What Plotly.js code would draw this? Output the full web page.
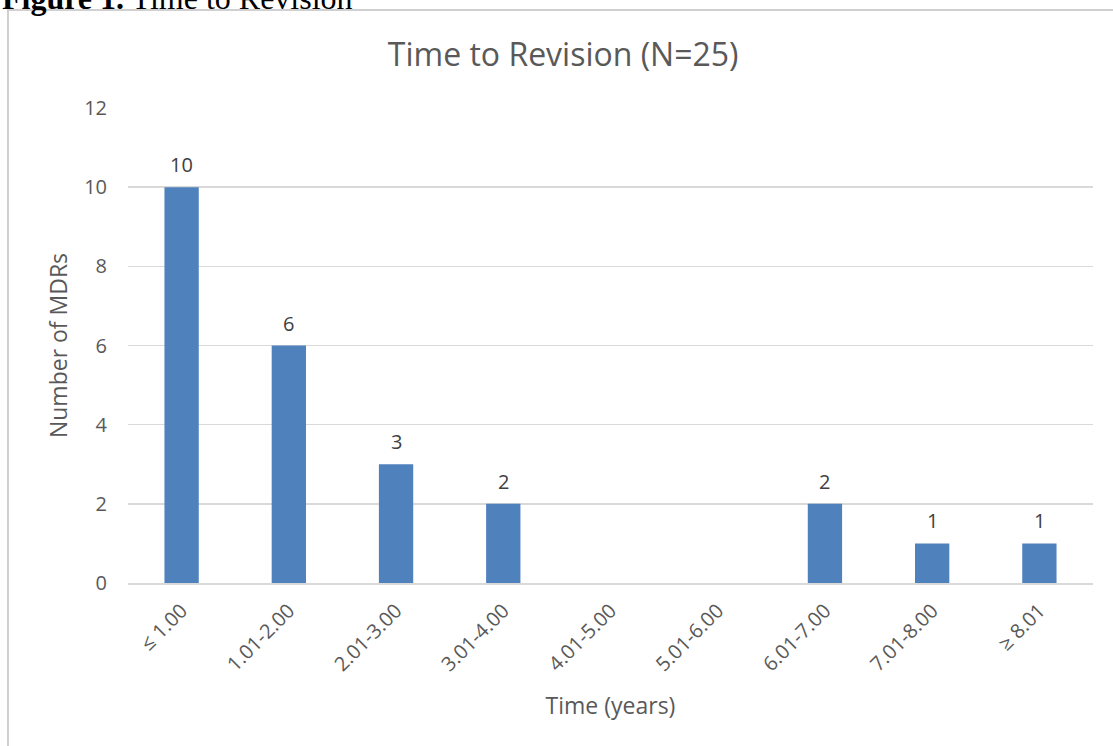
<!DOCTYPE html>
<html><head><meta charset="utf-8">
<script src="https://cdn.plot.ly/plotly-3.0.1.min.js"></script>
<style>html,body{margin:0;padding:0;background:#fff;}#chart{width:1113px;height:746px;}</style>
</head><body><div id="chart"></div>
<script>
const categories = ["≤ 1.00","1.01-2.00","2.01-3.00","3.01-4.00","4.01-5.00","5.01-6.00","6.01-7.00","7.01-8.00","≥ 8.01"];
const counts = [10,6,3,2,0,0,2,1,1];
const labels = ["10","6","3","2","","","2","1","1"];
const yTicks = [0,2,4,6,8,10,12];

const font = "'Open Sans', sans-serif";
const trace = {
  type: 'bar', x: categories, y: counts,
  marker: {color: '#4f81bd'}, hoverinfo: 'x+y'
};
const dataLabels = categories.map((c, i) => ({
  xref: 'x', yref: 'y', x: c, y: counts[i], text: labels[i], showarrow: false,
  yanchor: 'bottom', yshift: 7, font: {family: font, size: 20, color: '#404040'}
})).filter(a => a.text !== '');
const layout = {
  width: 1113, height: 746,
  margin: {l: 128, r: 20, t: 108, b: 163},
  paper_bgcolor: '#fff', plot_bgcolor: '#fff',
  bargap: 0.68,
  font: {family: font, color: '#595959'},
  title: {text: 'Time to Revision (N=25)', font: {size: 32, color: '#595959', family: font}, x: 0.506, xanchor: 'center', y: 0.927, yanchor: 'middle'},
  xaxis: {type: 'category', tickangle: -45, tickfont: {size: 20, color: '#595959'}, ticklabelstandoff: 6, showgrid: false, showline: true, linecolor: '#d9d9d9', linewidth: 2, ticks: '',
    title: {text: 'Time (years)', font: {size: 23, color: '#595959'}, standoff: 22}},
  yaxis: {range: [0, 12], tickvals: yTicks, ticktext: yTicks.map(String), tickfont: {size: 20, color: '#595959'}, ticklabelstandoff: 20, showgrid: true, gridcolor: '#d9d9d9', gridwidth: 1.5, zeroline: false, ticks: '', showline: false,
    title: {text: 'Number of MDRs', font: {size: 23, color: '#595959'}, standoff: 10}},
  shapes: [{type: 'rect', xref: 'paper', yref: 'paper', x0: -0.1244, x1: 1.03, y0: -0.4, y1: 1.2063, line: {color: '#d0d0d0', width: 2}, fillcolor: 'rgba(0,0,0,0)', layer: 'below'}],
  annotations: [{xref: 'paper', yref: 'paper', x: -0.1326, y: 1.19, xanchor: 'left', yanchor: 'bottom', showarrow: false,
    text: '<b>Figure 1.</b> Time to Revision', font: {family: "'Liberation Serif', 'Times New Roman', serif", size: 32, color: '#000'}}].concat(dataLabels),
  showlegend: false
};
Plotly.newPlot('chart', [trace], layout, {displayModeBar: false, staticPlot: true});
</script></body></html>
